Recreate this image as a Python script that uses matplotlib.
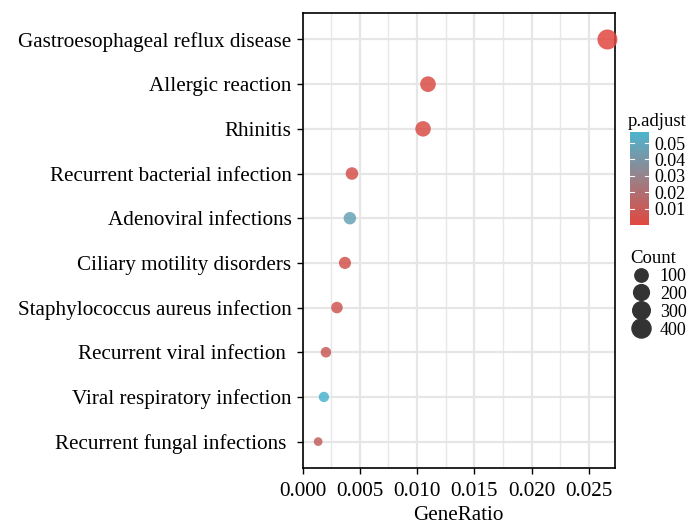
import numpy as np
import matplotlib
matplotlib.use('Agg')
import matplotlib.pyplot as plt
from matplotlib.colors import LinearSegmentedColormap, Normalize
from matplotlib.cm import ScalarMappable
from matplotlib.lines import Line2D

plt.rcParams['font.family'] = ['Liberation Serif', 'DejaVu Serif']

terms = [
    'Gastroesophageal reflux disease',
    'Allergic reaction',
    'Rhinitis',
    'Recurrent bacterial infection',
    'Adenoviral infections',
    'Ciliary motility disorders',
    'Staphylococcus aureus infection',
    'Recurrent viral infection ',
    'Viral respiratory infection',
    'Recurrent fungal infections ',
]
gene_ratio = [0.02662, 0.01095, 0.01052, 0.00431, 0.00413, 0.00370, 0.00300, 0.00204, 0.00186, 0.00136]
counts = [470, 193, 186, 76, 73, 65, 53, 36, 33, 24]
p_adjust = [0.0002, 0.003, 0.0035, 0.005, 0.047, 0.006, 0.008, 0.010, 0.0567, 0.012]

size_breaks = [100, 200, 300, 400]
cbar_ticks = [0.01, 0.02, 0.03, 0.04, 0.05]

cmap = LinearSegmentedColormap.from_list('padj', ['#e1483f', '#9a8088', '#4cb4ce'])
norm = Normalize(vmin=min(p_adjust), vmax=max(p_adjust))

cmin, cmax = min(counts), max(counts)


def marker_area(c):
    # diameter in px grows with sqrt of the rescaled count, like an area scale
    t = np.clip((np.asarray(c, float) - cmin) / (cmax - cmin), 0, 1)
    d_px = 8.7 + 11.3 * np.sqrt(t)
    return (d_px * 72 / 100) ** 2


fig = plt.figure(figsize=(6.94, 5.25), dpi=100)
ax = fig.add_axes([0.436, 0.1086, 0.450, 0.8664])

ypos = np.arange(len(terms))[::-1] + 1
ax.scatter(gene_ratio, ypos, s=marker_area(counts), c=p_adjust, cmap=cmap, norm=norm,
           alpha=0.85, linewidths=0, zorder=3, clip_on=False)

fs = 15.2
ax.set_xlim(0, 0.02727)
ax.set_ylim(0.41, len(terms) + 0.59)
ax.set_yticks(ypos)
ax.set_yticklabels(terms, fontsize=fs)
ax.set_xticks([0.0, 0.005, 0.010, 0.015, 0.020, 0.025])
ax.set_xticklabels(['0.000', '0.005', '0.010', '0.015', '0.020', '0.025'], fontsize=fs)
ax.set_xticks(np.arange(0.0025, 0.0273, 0.005), minor=True)
ax.set_xlabel('GeneRatio', fontsize=fs, labelpad=4)

ax.grid(True, which='major', color='#e6e6e6', linewidth=1.6, zorder=0)
ax.grid(True, which='minor', axis='x', color='#e8e8e8', linewidth=1.0, zorder=0)
ax.set_axisbelow(True)
ax.tick_params(axis='both', which='major', length=4, width=1, color='black', pad=4)
ax.tick_params(axis='x', which='major', pad=6)
ax.tick_params(axis='x', which='minor', length=0)
for sp in ax.spines.values():
    sp.set_linewidth(1.2)
    sp.set_color('black')

# colour legend
fig.text(628 / 694, 1 - 121 / 525, 'p.adjust', fontsize=13.5, va='center', ha='left')
cax = fig.add_axes([630 / 694, 1 - 225 / 525, 19 / 694, 93 / 525])
cb = fig.colorbar(ScalarMappable(norm=norm, cmap=cmap), cax=cax)
cb.outline.set_visible(False)
cb.set_ticks(cbar_ticks)
cb.set_ticklabels([f'{v:.2f}' for v in cbar_ticks], fontsize=13)
cax.tick_params(length=0, pad=4)
for v in cbar_ticks:
    cax.plot([0.0, 0.2], [v, v], color='white', linewidth=0.8, transform=cax.get_yaxis_transform())
    cax.plot([0.8, 1.0], [v, v], color='white', linewidth=0.8, transform=cax.get_yaxis_transform())

# size legend
handles = [Line2D([], [], linestyle='none', marker='o', color='#333333',
                  markersize=np.sqrt(marker_area(b))) for b in size_breaks]
leg = fig.legend(handles, [str(b) for b in size_breaks], title='Count',
                 loc='upper left', bbox_to_anchor=(630 / 694, 1 - 250 / 525),
                 frameon=False, fontsize=13, title_fontsize=13.5,
                 handlelength=1.2, handletextpad=0.45, labelspacing=0.05,
                 borderpad=0, borderaxespad=0)
leg._legend_box.align = 'left'

fig.savefig('out.png', dpi=100)
